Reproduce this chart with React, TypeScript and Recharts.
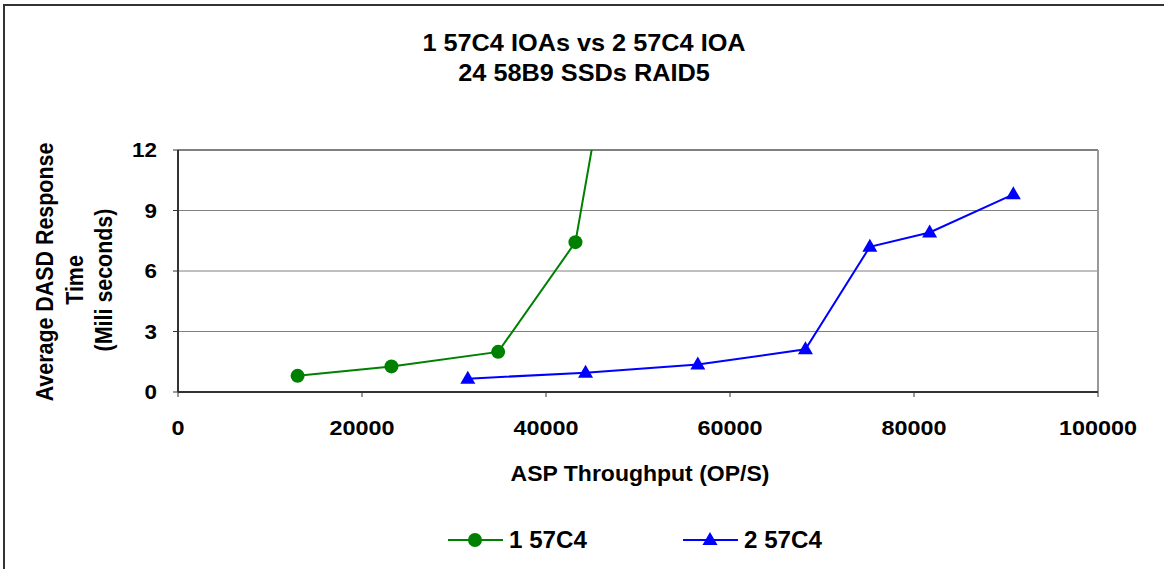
import { LineChart, Line, XAxis, YAxis, CartesianGrid, ReferenceLine, Legend } from "recharts";

const titleLines = ["1 57C4 IOAs vs 2 57C4 IOA", "24 58B9 SSDs RAID5"];
const yLabelLines = ["Average DASD Response", "Time", "(Mili seconds)"];
const xLabel = "ASP Throughput (OP/S)";
const seriesNames = ["1 57C4", "2 57C4"];

const xTicks = [0, 20000, 40000, 60000, 80000, 100000];
const yTicks = [0, 3, 6, 9, 12];

// 1 x 57C4: last point runs off the top of the chart
const oneThroughput = [13000, 23200, 34800, 43200, 46500];
const oneResponse = [0.8, 1.27, 1.99, 7.43, 16];

// 2 x 57C4
const twoThroughput = [31500, 44300, 56500, 68200, 75200, 81700, 90800];
const twoResponse = [0.66, 0.96, 1.36, 2.12, 7.2, 7.91, 9.8];

const oneData = oneThroughput.map((x, i) => ({ x, y: oneResponse[i] }));
const twoData = twoThroughput.map((x, i) => ({ x, y: twoResponse[i] }));

const FONT = "'Liberation Sans', Arial, sans-serif";
const GREEN = "#008000";
const BLUE = "#0000ff";

const circleDot = (props: any) => {
  const { cx, cy, index } = props;
  if (cx == null || cy == null) return <g key={`c-${index}`} />;
  return <circle key={`c-${index}`} cx={cx} cy={cy} r={7} fill={GREEN} />;
};

const triangleDot = (props: any) => {
  const { cx, cy, index } = props;
  if (cx == null || cy == null) return <g key={`t-${index}`} />;
  return (
    <path
      key={`t-${index}`}
      d={`M${cx},${cy - 8} L${cx + 7.5},${cy + 5} L${cx - 7.5},${cy + 5} Z`}
      fill={BLUE}
    />
  );
};

const XTick = (props: any) => {
  const { x, y, payload } = props;
  return (
    <g transform={`translate(${x},${y})`}>
      <text
        transform="scale(1.17,1)"
        y={36}
        textAnchor="middle"
        fontFamily={FONT}
        fontWeight="bold"
        fontSize={20}
        fill="#000"
      >
        {payload.value}
      </text>
    </g>
  );
};

const YTick = (props: any) => {
  const { x, y, payload } = props;
  return (
    <g transform={`translate(${x - 14},${y})`}>
      <text
        transform="scale(1.12,1)"
        y={7}
        textAnchor="end"
        fontFamily={FONT}
        fontWeight="bold"
        fontSize={20}
        fill="#000"
      >
        {payload.value}
      </text>
    </g>
  );
};

const LegendBox = () => {
  const items = [
    { name: seriesNames[0], color: GREEN, x: 448, shape: "circle" },
    { name: seriesNames[1], color: BLUE, x: 683, shape: "triangle" },
  ];
  return (
    <svg width={1164} height={40}>
      {items.map((it) => {
        const cx = it.x + 27;
        return (
          <g key={it.name}>
            <line x1={it.x} x2={it.x + 55} y1={20} y2={20} stroke={it.color} strokeWidth={2} />
            {it.shape === "circle" ? (
              <circle cx={cx} cy={20} r={7} fill={it.color} />
            ) : (
              <path d={`M${cx},${12} L${cx + 7.5},${25} L${cx - 7.5},${25} Z`} fill={it.color} />
            )}
            <text
              transform={`translate(${it.x + 61},28) scale(1.05,1)`}
              fontFamily={FONT}
              fontWeight="bold"
              fontSize={23}
              fill="#000"
            >
              {it.name}
            </text>
          </g>
        );
      })}
    </svg>
  );
};

export default function App() {
  return (
    <div style={{ position: "absolute", left: 0, top: 0, width: 1164, height: 569, overflow: "hidden", background: "#fff" }}>
      <div
        style={{
          position: "absolute",
          left: 3,
          top: 4,
          width: 1200,
          height: 600,
          borderLeft: "2px solid #333",
          borderTop: "2px solid #333",
        }}
      />
      <div style={{ position: "absolute", left: 0, top: 0 }}>
        <LineChart width={1164} height={569} margin={{ top: 150, right: 66, bottom: 117, left: 0 }}>
          <CartesianGrid vertical={false} stroke="#808080" strokeWidth={1} />
          <XAxis
            type="number"
            dataKey="x"
            domain={[0, 100000]}
            ticks={xTicks}
            height={60}
            axisLine={{ stroke: "#333", strokeWidth: 2 }}
            tickLine={{ stroke: "#333", strokeWidth: 1 }}
            tickSize={5}
            tickMargin={2}
            tick={<XTick />}
            interval={0}
          />
          <YAxis
            type="number"
            dataKey="y"
            domain={[0, 12]}
            allowDataOverflow
            ticks={yTicks}
            width={178}
            axisLine={{ stroke: "#333", strokeWidth: 2 }}
            tickLine={{ stroke: "#333", strokeWidth: 1 }}
            tickSize={5}
            tickMargin={2}
            tick={<YTick />}
            interval={0}
          />
          <ReferenceLine y={12} stroke="#808080" strokeWidth={2} />
          <ReferenceLine x={100000} stroke="#999" strokeWidth={2} />
          <Line
            data={oneData}
            dataKey="y"
            name={seriesNames[0]}
            stroke={GREEN}
            strokeWidth={2}
            dot={circleDot}
            isAnimationActive={false}
          />
          <Line
            data={twoData}
            dataKey="y"
            name={seriesNames[1]}
            stroke={BLUE}
            strokeWidth={2}
            dot={triangleDot}
            isAnimationActive={false}
          />
          <Legend
            verticalAlign="middle"
            align="center"
            content={<LegendBox />}
            wrapperStyle={{ position: "absolute", left: 0, top: 520, width: 1164, height: 40 }}
          />
          {titleLines.map((t, i) => (
            <text
              key={t}
              transform={`translate(584,${51 + i * 30}) scale(1.1,1)`}
              textAnchor="middle"
              fontFamily={FONT}
              fontWeight="bold"
              fontSize={23}
              fill="#000"
            >
              {t}
            </text>
          ))}
          {yLabelLines.map((t, i) => (
            <text
              key={t}
              transform={`translate(${53 + i * 29.5},${i === 0 ? 272 : 280}) rotate(-90) scale(1.02,1.1)`}
              textAnchor="middle"
              fontFamily={FONT}
              fontWeight="bold"
              fontSize={21}
              fill="#000"
            >
              {t}
            </text>
          ))}
          <text
            transform="translate(640,481) scale(1.07,1)"
            textAnchor="middle"
            fontFamily={FONT}
            fontWeight="bold"
            fontSize={21.5}
            fill="#000"
          >
            {xLabel}
          </text>
        </LineChart>
      </div>
    </div>
  );
}
